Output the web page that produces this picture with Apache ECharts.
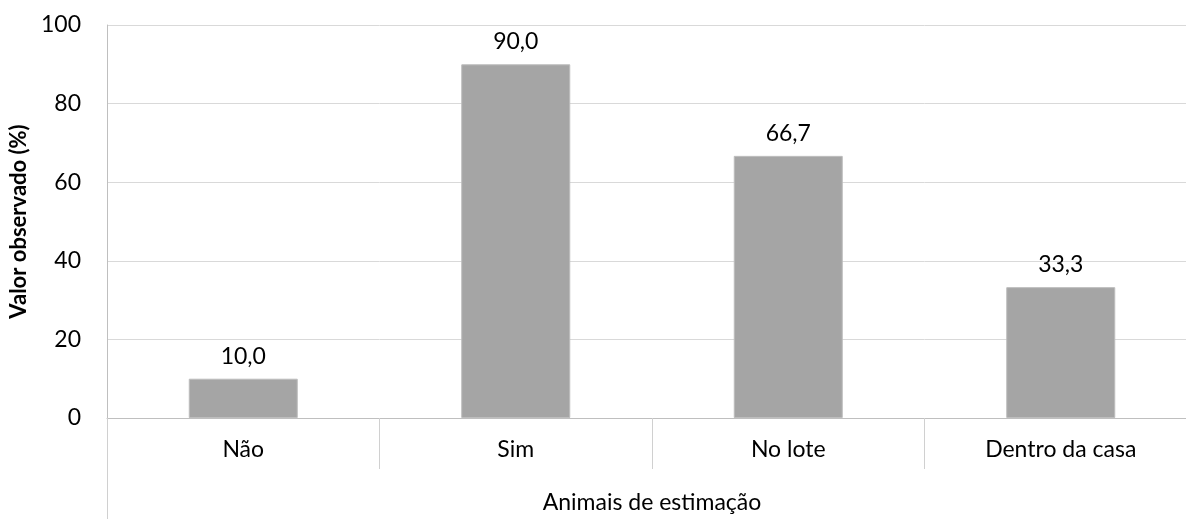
<!DOCTYPE html>
<html>
<head>
<meta charset="utf-8">
<script src="https://cdn.jsdelivr.net/npm/echarts@6/dist/echarts.min.js"></script>
<style>
  html, body { margin: 0; padding: 0; background: #fff; overflow: hidden; }
  /* o gráfico original é cortado à direita, por isso o div é mais largo que a janela */
  #chart { width: 1210px; height: 519px; }
</style>
</head>
<body>
<div id="chart"></div>
<script>
// dados
const categorias = ['Não', 'Sim', 'No lote', 'Dentro da casa'];
const valores = [10.0, 90.0, 66.7, 33.3];
const yTicks = [0, 20, 40, 60, 80, 100];

const fonte = 'Lato, "Open Sans", sans-serif';
const tam = 23;
const chart = echarts.init(document.getElementById('chart'));

chart.setOption({
  animation: false,
  grid: { left: 107, top: 25, width: 1090, height: 394 },
  xAxis: [
    {
      type: 'category',
      data: categorias,
      name: 'Animais de estimação',
      nameLocation: 'middle',
      nameGap: 73,
      nameTextStyle: { fontFamily: fonte, fontSize: tam, color: '#000' },
      axisLine: { show: true, lineStyle: { color: '#BFBFBF', width: 1 } },
      axisTick: { show: true, length: 51, lineStyle: { color: '#D0D0D0' } },
      axisLabel: { margin: 20, fontFamily: fonte, fontSize: tam, color: '#000' }
    },
    {
      // só para prolongar a borda esquerda até embaixo
      type: 'category',
      data: categorias,
      position: 'bottom',
      axisLine: { show: false },
      axisLabel: { show: false },
      axisTick: { show: true, length: 110, interval: (i) => i === 0, lineStyle: { color: '#D0D0D0' } }
    }
  ],
  yAxis: {
    type: 'value',
    min: yTicks[0],
    max: yTicks[yTicks.length - 1],
    interval: 20,
    name: 'Valor observado (%)',
    nameLocation: 'middle',
    nameGap: 70,
    nameTextStyle: { fontFamily: fonte, fontSize: tam - 1, fontWeight: 'bold', color: '#000' },
    axisLine: { show: true, lineStyle: { color: '#BFBFBF' } },
    axisTick: { show: false },
    axisLabel: { margin: 26, fontFamily: fonte, fontSize: tam, color: '#000' },
    splitLine: { lineStyle: { color: '#D9D9D9' } }
  },
  series: [
    {
      type: 'bar',
      data: valores,
      barCategoryGap: '60%',
      itemStyle: { color: '#A5A5A5', borderColor: '#BDBDBD', borderWidth: 1 },
      label: {
        show: true,
        position: 'top',
        distance: 11,
        fontFamily: fonte,
        fontSize: tam,
        color: '#000',
        formatter: (p) => p.value.toFixed(1).replace('.', ',')
      }
    }
  ]
});
</script>
</body>
</html>
